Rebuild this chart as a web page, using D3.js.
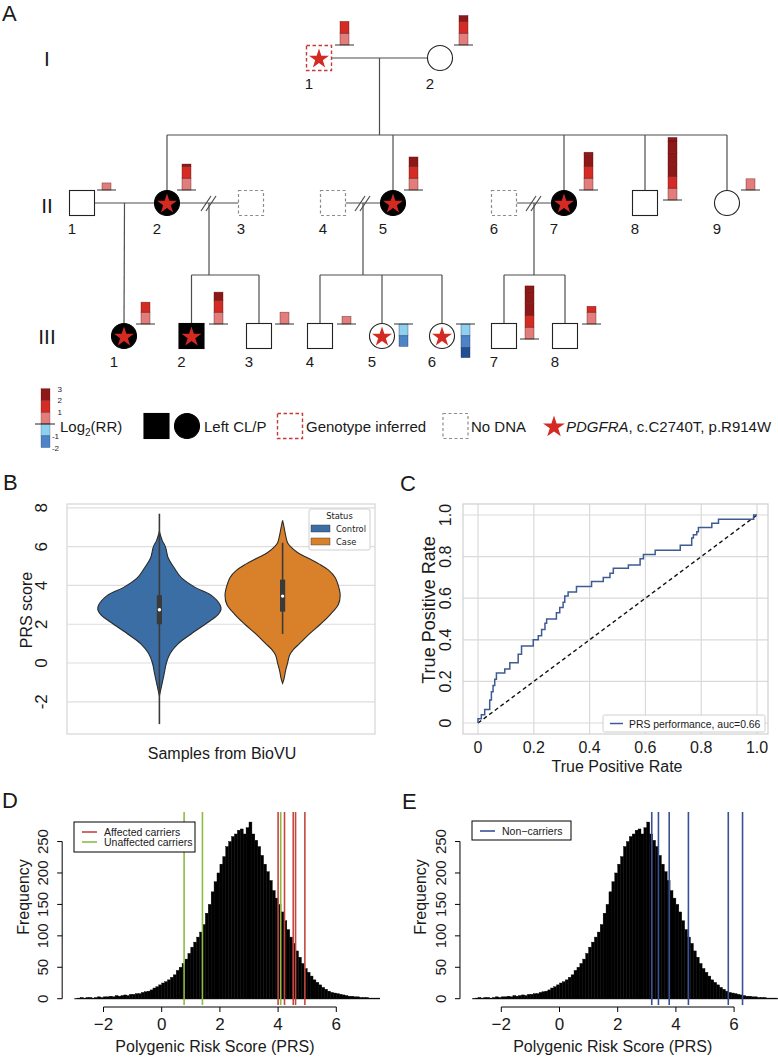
<!DOCTYPE html>
<html>
<head>
<meta charset="utf-8">
<script src="https://cdn.jsdelivr.net/npm/d3@7/dist/d3.min.js"></script>
<style>
  html,body{margin:0;padding:0;background:#fff;}
  svg{display:block;}
  text{font-family:"Liberation Sans",Arial,Helvetica,sans-serif;fill:#1a1a1a;}
</style>
</head>
<body>
<svg id="fig" width="778" height="1057" xmlns="http://www.w3.org/2000/svg"></svg>
<script>
// ===================== DATA =====================
// Panel A – pedigree
const pedIds        = ["I-1","I-2","II-1","II-2","II-3","II-4","II-5","II-6","II-7","II-8","II-9","III-1","III-2","III-3","III-4","III-5","III-6","III-7","III-8"];
const pedLabels     = ["1","2","1","2","3","4","5","6","7","8","9","1","2","3","4","5","6","7","8"];
const pedGeneration = ["I","I","II","II","II","II","II","II","II","II","II","III","III","III","III","III","III","III","III"];
const pedSex        = ["M","F","M","F","M","M","F","M","F","M","F","F","M","M","M","F","F","M","M"];
const pedAffected   = [0,0,0,1,0,0,1,0,1,0,0,1,1,0,0,0,0,0,0];
const pedCarrier    = [1,0,0,1,0,0,1,0,1,0,0,1,1,0,0,1,1,0,0];
const pedDNA        = ["inferred","yes","yes","yes","none","none","yes","none","yes","yes","yes","yes","yes","yes","yes","yes","yes","yes","yes"];
const pedLog2RR     = [2.0,2.5,0.6,2.2,null,null,2.8,null,3.2,5.3,0.95,1.85,2.7,1.0,0.65,-1.9,-2.85,4.5,1.5];
const matingPairs     = [["I-1","I-2"],["II-1","II-2"],["II-2","II-3"],["II-4","II-5"],["II-6","II-7"]];
const matingSeparated = [false,false,true,true,true];
const matingChildren  = [["II-2","II-5","II-7","II-8","II-9"],["III-1"],["III-2","III-3"],["III-4","III-5","III-6"],["III-7","III-8"]];
const generations     = ["I","II","III"];
const rrLegendPos     = [1,2,3];
const rrLegendNeg     = [-1,-2];

// Panel B – violin (KDE profile, relative width)
const statusGroups  = ["Control","Case"];
const controlKdeV = [6.8,6.6,6.3,6.0,5.4,4.9,4.4,3.9,3.5,3.0,2.75,2.5,2.1,1.5,1.0,0.5,0.0,-0.5,-1.0,-1.35,-1.7];
const controlKdeW = [0,.016,.048,.097,.145,.242,.355,.58,.839,.984,1,.952,.79,.516,.306,.177,.113,.081,.048,.024,0];
const caseKdeV    = [7.35,7.0,6.6,6.2,6.0,5.7,5.4,5.1,4.8,4.4,4.0,3.5,3.0,2.5,2.0,1.5,1.0,0.7,0.4,0.0,-0.4,-0.8,-1.05];
const caseKdeW    = [0,.024,.048,.081,.129,.242,.419,.597,.742,.855,.903,.935,.903,.774,.613,.435,.274,.177,.113,.081,.048,.024,0];
const boxQ1     = [2.0,2.65];
const boxMedian = [2.75,3.45];
const boxQ3     = [3.5,4.3];
const whiskerLo = [-3.15,1.5];
const whiskerHi = [7.7,6.2];
const bTicks    = [-2,0,2,4,6,8];

// Panel C – ROC curve
const rocFPR = [0,0,0.012,0.024,0.042,0.048,0.054,0.060,0.066,0.096,0.114,0.144,0.156,0.198,0.216,0.228,0.240,0.246,0.281,0.293,0.305,0.311,0.323,0.353,0.407,0.449,0.473,0.485,0.539,0.581,0.593,0.635,0.725,0.766,0.772,0.784,0.790,0.838,0.862,0.988,1.0];
const rocTPR = [0,0.02,0.04,0.065,0.11,0.15,0.18,0.21,0.24,0.26,0.29,0.33,0.37,0.40,0.42,0.45,0.48,0.50,0.53,0.555,0.58,0.61,0.63,0.656,0.68,0.70,0.72,0.744,0.76,0.79,0.81,0.83,0.855,0.89,0.905,0.92,0.94,0.96,0.98,1.0,1.0];
const cTicks = [0,0.2,0.4,0.6,0.8,1.0];
const cTickLabels = ["0","0.2","0.4","0.6","0.8","1.0"];

// Panels D/E – PRS histogram (bins of 0.1 starting at -3.0)
const prsBinStart = -3.0;
const prsBinWidth = 0.1;
const prsCounts = [
  0,1,2,1,2,2,1,2,3,2,
  3,3,4,3,5,4,5,6,5,7,
  7,8,8,10,11,12,14,17,19,22,
  25,27,30,34,38,45,50,56,63,72,
  82,90,98,106,118,136,150,170,186,200,
  214,226,242,250,258,262,268,270,262,272,
  281,262,252,242,228,214,202,188,172,160,
  150,138,124,110,98,88,76,66,56,48,
  42,36,30,26,22,18,15,12,10,9,
  8,7,6,5,4,4,3,3,2,2,
  2,1,1,1,1
];
const affectedCarrierPRS   = [4.0,4.22,4.52,4.6,4.92];
const unaffectedCarrierPRS = [0.77,1.40,4.09];
const nonCarrierPRS        = [3.17,3.40,3.77,4.43,5.80,6.29];
const histXTicks = [-2,0,2,4,6];
const histYTicks = [0,50,100,150,200,250];

// ===================== LAYOUT (positions only) =====================
const pedX       = [319,440,82,167,251,333,393,504,564,645,727,124,191.5,259,320,382,442,504,565];
const pedBarX    = [340,459,102,182,null,null,409,null,584,668,746,141,214,280,342,399,461,525,587];
const pedBarBase = [45,45,190,190,null,null,190,null,190,200,190,324,324,324,324,324,324,339,324];

// ===================== DRAW =====================
const svg = d3.select("#fig");
svg.append("rect").attr("width",778).attr("height",1057).attr("fill","#fff");

const starCol = "#d42a22";
const star = r => d3.symbol().type(d3.symbolStar).size(r*r/0.8908130915292852)();

function panelLabel(t,x,y){ svg.append("text").attr("x",x).attr("y",y).attr("font-size",22).text(t); }
panelLabel("A",2,21); panelLabel("B",3,490); panelLabel("C",400,491); panelLabel("D",2,808); panelLabel("E",402,809);

// ---------- Panel A ----------
const gA = svg.append("g");
const idx = new Map(pedIds.map((d,i)=>[d,i]));
const genY = d3.scaleOrdinal().domain(generations).range([58,203,336]);
const sibY = d3.scaleOrdinal().domain(generations).range([0,135,275]);
const genLabelY = d3.scaleOrdinal().domain(generations).range([66,213,344]);
const rr = d3.scaleLinear().domain([0,1]).range([0,11.8]);
const HS = 12.5;
const PX = id => pedX[idx.get(id)];
const PY = id => genY(pedGeneration[idx.get(id)]);
const lineCol = "#4d4d4d";
function seg(x1,y1,x2,y2,g=gA){ g.append("line").attr("x1",x1).attr("y1",y1).attr("x2",x2).attr("y2",y2).attr("stroke",lineCol).attr("stroke-width",1.2); }

generations.forEach(g=>{
  gA.append("text").attr("x",47).attr("y",genLabelY(g)).attr("text-anchor","middle").attr("font-size",21).text(g);
});

matingPairs.forEach((p,m)=>{
  const [a,b]=p; const y=PY(a);
  seg(PX(a)+HS,y,PX(b)-HS,y);
  const dx=(PX(a)+PX(b))/2;
  const kids=matingChildren[m];
  if(matingSeparated[m]){ [-3,2].forEach(o=>seg(dx+o-5,y+8,dx+o+5,y-7)); }
  if(kids.length===1){
    const c=kids[0]; seg(dx,y,PX(c),PY(c)-HS);
  } else {
    const sy=sibY(pedGeneration[idx.get(kids[0])]);
    seg(dx,y,dx,sy);
    const xs=kids.map(PX);
    seg(d3.min(xs),sy,d3.max(xs),sy);
    kids.forEach(c=>seg(PX(c),sy,PX(c),PY(c)-HS));
  }
});

function drawShape(g,sex,x,y,affected,dna){
  const fill = affected ? "#000" : "#fff";
  let stroke = affected ? "#000" : "#222", dash=null, sw=1.1;
  if(dna==="none"){stroke="#8c8c8c"; dash="3,2.5"; sw=1.2;}
  if(dna==="inferred"){stroke="#c23b36"; dash="3.5,2.5"; sw=1.4;}
  const el = sex==="M" ? g.append("rect").attr("x",x-HS).attr("y",y-HS).attr("width",2*HS).attr("height",2*HS)
                       : g.append("circle").attr("cx",x).attr("cy",y).attr("r",HS);
  el.attr("fill",fill).attr("stroke",stroke).attr("stroke-width",sw);
  if(dash) el.attr("stroke-dasharray",dash);
}

pedIds.forEach((id,i)=>{
  const x=pedX[i], y=genY(pedGeneration[i]);
  drawShape(gA,pedSex[i],x,y,pedAffected[i],pedDNA[i]);
  if(pedCarrier[i]) gA.append("path").attr("d",star(10.5)).attr("transform",`translate(${x},${y+1})`).attr("fill",starCol);
  gA.append("text").attr("x",x-10).attr("y",y+31).attr("text-anchor","middle").attr("font-size",15).text(pedLabels[i]);
});

const rrPos = ["#e27d7c","#d42b24","#8e1717"];
const rrNeg = ["#8fd0ef","#4d84c5","#22508f"];
function rrBar(g,v,x,base,w){
  const n=Math.ceil(Math.abs(v)-1e-9);
  for(let k=0;k<n;k++){
    const a=k, b=Math.min(k+1,Math.abs(v));
    const y0 = v>0 ? base-rr(b) : base+rr(a);
    g.append("rect").attr("x",x).attr("y",y0).attr("width",w).attr("height",rr(b)-rr(a))
      .attr("fill", v>0 ? rrPos[Math.min(k,2)] : rrNeg[Math.min(k,2)])
      .attr("stroke", v>0 ? "rgba(70,15,15,0.6)" : "rgba(20,40,90,0.6)").attr("stroke-width",0.6);
  }
}
pedIds.forEach((id,i)=>{
  const v=pedLog2RR[i]; if(v===null) return;
  const x=pedBarX[i], base=pedBarBase[i];
  rrBar(gA,v,x,base,9);
  gA.append("line").attr("x1",x-5).attr("x2",x+14).attr("y1",base).attr("y2",base).attr("stroke","#333").attr("stroke-width",1);
});

// Legend row
const gL = svg.append("g");
rrLegendPos.forEach((t,k)=>{
  gL.append("rect").attr("x",41).attr("y",424-rr(t)).attr("width",9).attr("height",rr(1))
    .attr("fill",rrPos[k]).attr("stroke","rgba(70,15,15,0.5)").attr("stroke-width",0.5);
  gL.append("text").attr("x",62).attr("y",424-rr(t)+3).attr("text-anchor","end").attr("font-size",8).text(t);
});
rrLegendNeg.forEach((t,k)=>{
  gL.append("rect").attr("x",41).attr("y",424+rr(-t-1)).attr("width",9).attr("height",rr(1))
    .attr("fill",rrNeg[k]).attr("stroke","rgba(20,40,90,0.5)").attr("stroke-width",0.5);
  gL.append("text").attr("x",59).attr("y",424+rr(-t)+3.5).attr("text-anchor","end").attr("font-size",8).text(t);
});
gL.append("line").attr("x1",35).attr("x2",55).attr("y1",424).attr("y2",424).attr("stroke","#222");
const lt = gL.append("text").attr("x",60).attr("y",432).attr("font-size",15);
lt.append("tspan").text("Log");
lt.append("tspan").attr("font-size",10).attr("dy",4).text("2");
lt.append("tspan").attr("dy",-4).text("(RR)");
drawShape(gL,"M",156.5,426,1,"yes");
drawShape(gL,"F",187,426,1,"yes");
gL.append("text").attr("x",204).attr("y",432).attr("font-size",15).text("Left CL/P");
drawShape(gL,"M",290,426,0,"inferred");
gL.append("text").attr("x",306).attr("y",432).attr("font-size",15).text("Genotype inferred");
drawShape(gL,"M",455.5,426,0,"none");
gL.append("text").attr("x",471).attr("y",432).attr("font-size",15).text("No DNA");
gL.append("path").attr("d",star(11.5)).attr("transform","translate(554,427)").attr("fill",starCol);
const gt = gL.append("text").attr("x",566).attr("y",432).attr("font-size",15);
gt.append("tspan").attr("font-style","italic").text("PDGFRA");
gt.append("tspan").text(", c.C2740T, p.R914W");

// ---------- Panel B ----------
const gB = svg.append("g");
const bX = d3.scaleLinear().domain([-0.5,0.5]).range([67,375]);
const bY = d3.scaleLinear().domain([-3.66,8.2]).range([734,504]);
const bW = d3.scaleLinear().domain([0,1]).range([0,0.2]);
const hueOffset = d3.scaleOrdinal().domain(statusGroups).range([-0.2,0.2]);
const hueColor  = d3.scaleOrdinal().domain(statusGroups).range(["#3b6ea5","#d8812a"]);
bTicks.forEach(t=>{
  gB.append("line").attr("x1",67).attr("x2",375).attr("y1",bY(t)).attr("y2",bY(t)).attr("stroke","#dedede").attr("stroke-width",1.2);
  gB.append("text").attr("transform",`translate(47,${bY(t)}) rotate(-90)`).attr("text-anchor","middle").attr("font-size",17).text(t);
});
gB.append("rect").attr("x",67).attr("y",504).attr("width",308).attr("height",230).attr("fill","none").attr("stroke","#d6d6d6").attr("stroke-width",1.2);
const kdeV=[controlKdeV,caseKdeV], kdeW=[controlKdeW,caseKdeW];
statusGroups.forEach((s,gi)=>{
  const c=hueOffset(s);
  const pts=kdeV[gi].map((v,j)=>({v,w:kdeW[gi][j]}));
  const area=d3.area().y(d=>bY(d.v)).x0(d=>bX(c-bW(d.w))).x1(d=>bX(c+bW(d.w))).curve(d3.curveCatmullRom.alpha(0.5));
  gB.append("path").attr("d",area(pts)).attr("fill",hueColor(s)).attr("stroke","#2a2a2a").attr("stroke-width",1.1);
  const cx=bX(c);
  gB.append("line").attr("x1",cx).attr("x2",cx).attr("y1",bY(whiskerLo[gi])).attr("y2",bY(whiskerHi[gi])).attr("stroke","#3a3a3a").attr("stroke-width",1.6);
  gB.append("rect").attr("x",cx-2.6).attr("width",5.2).attr("y",bY(boxQ3[gi])).attr("height",bY(boxQ1[gi])-bY(boxQ3[gi])).attr("fill","#3a3a3a");
  gB.append("circle").attr("cx",cx).attr("cy",bY(boxMedian[gi])).attr("r",1.7).attr("fill","#fff");
});
gB.append("rect").attr("x",309).attr("y",509).attr("width",61).attr("height",41).attr("rx",2).attr("fill","#fff").attr("stroke","#cfcfcf");
gB.append("text").attr("x",339.5).attr("y",519).attr("text-anchor","middle").attr("font-size",8.3).style("font-family","'DejaVu Sans',sans-serif").text("Status");
statusGroups.forEach((s,gi)=>{
  const y=525+gi*13;
  gB.append("rect").attr("x",311).attr("y",y).attr("width",19).attr("height",7).attr("fill",hueColor(s)).attr("stroke","#2a2a2a").attr("stroke-width",0.4);
  gB.append("text").attr("x",336).attr("y",y+6.5).attr("font-size",8.3).style("font-family","'DejaVu Sans',sans-serif").text(s);
});
gB.append("text").attr("transform","translate(32,610) rotate(-90)").attr("text-anchor","middle").attr("font-size",16).text("PRS score");
gB.append("text").attr("x",222).attr("y",759).attr("text-anchor","middle").attr("font-size",16).text("Samples from BioVU");

// ---------- Panel C ----------
const gC = svg.append("g");
const cX = d3.scaleLinear().domain([0,1]).range([478,757]);
const cY = d3.scaleLinear().domain([0,1]).range([723,515]);
cTicks.forEach((t,k)=>{
  gC.append("line").attr("x1",cX(t)).attr("x2",cX(t)).attr("y1",504).attr("y2",734).attr("stroke","#dadada").attr("stroke-width",1.2);
  gC.append("line").attr("x1",463).attr("x2",768).attr("y1",cY(t)).attr("y2",cY(t)).attr("stroke","#dadada").attr("stroke-width",1.2);
  gC.append("text").attr("x",cX(t)).attr("y",753).attr("text-anchor","middle").attr("font-size",16).text(cTickLabels[k]);
  gC.append("text").attr("transform",`translate(451,${cY(t)}) rotate(-90)`).attr("text-anchor","middle").attr("font-size",16).text(cTickLabels[k]);
});
gC.append("rect").attr("x",463).attr("y",504).attr("width",305).attr("height",230).attr("fill","none").attr("stroke","#d0d0d0").attr("stroke-width",1.2);
gC.append("line").attr("x1",cX(0)).attr("y1",cY(0)).attr("x2",cX(1)).attr("y2",cY(1)).attr("stroke","#111").attr("stroke-width",1.4).attr("stroke-dasharray","4,3");
const rocPts = rocFPR.map((f,i)=>[f,rocTPR[i]]);
gC.append("path").attr("d",d3.line().x(d=>cX(d[0])).y(d=>cY(d[1])).curve(d3.curveStepAfter)(rocPts))
  .attr("fill","none").attr("stroke","#3f5b93").attr("stroke-width",1.5);
gC.append("rect").attr("x",603).attr("y",715).attr("width",162).attr("height",17).attr("rx",1.5).attr("fill","#fff").attr("stroke","#cfcfcf");
gC.append("line").attr("x1",610).attr("x2",623).attr("y1",723.5).attr("y2",723.5).attr("stroke","#3f5b93").attr("stroke-width",1.5);
gC.append("text").attr("x",629).attr("y",727.5).attr("font-size",10.4).text("PRS performance, auc=0.66");
gC.append("text").attr("transform","translate(435,610) rotate(-90)").attr("text-anchor","middle").attr("font-size",18).text("True Positive Rate");
gC.append("text").attr("x",617).attr("y",772).attr("text-anchor","middle").attr("font-size",16).text("True Positive Rate");

// ---------- Panels D & E ----------
const histY = d3.scaleLinear().domain([-10,297]).range([1005,812]);
function histPanel(x0, lines, legendItems, legendBox){
  const g = svg.append("g");
  const X = d3.scaleLinear().domain([0,6]).range([x0, x0+174.6]);
  const axX = X(-3.42);
  prsCounts.forEach((c,i)=>{
    if(c<=0) return;
    const lo=prsBinStart+i*prsBinWidth, hi=lo+prsBinWidth;
    g.append("rect").attr("x",X(lo)).attr("width",X(hi)-X(lo)).attr("y",histY(c)).attr("height",histY(0)-histY(c))
      .attr("fill","#000").attr("stroke","#000").attr("stroke-width",0.4);
  });
  g.append("line").attr("x1",X(prsBinStart)).attr("x2",X(prsBinStart+prsCounts.length*prsBinWidth)).attr("y1",histY(0)).attr("y2",histY(0)).attr("stroke","#000").attr("stroke-width",1);
  lines.forEach(L=>L.values.forEach(v=>{
    g.append("line").attr("x1",X(v)).attr("x2",X(v)).attr("y1",812).attr("y2",1005).attr("stroke",L.color).attr("stroke-width",1.6);
  }));
  // y axis
  g.append("line").attr("x1",axX).attr("x2",axX).attr("y1",histY(0)).attr("y2",histY(250)).attr("stroke","#000");
  histYTicks.forEach(t=>{
    g.append("line").attr("x1",axX-5).attr("x2",axX).attr("y1",histY(t)).attr("y2",histY(t)).attr("stroke","#000");
    g.append("text").attr("transform",`translate(${axX-14},${histY(t)}) rotate(-90)`).attr("text-anchor","middle").attr("font-size",15).text(t);
  });
  // x axis
  g.append("line").attr("x1",X(-2)).attr("x2",X(6)).attr("y1",1007).attr("y2",1007).attr("stroke","#000");
  histXTicks.forEach(t=>{
    g.append("line").attr("x1",X(t)).attr("x2",X(t)).attr("y1",1007).attr("y2",1012).attr("stroke","#000");
    g.append("text").attr("x",X(t)).attr("y",1030).attr("text-anchor","middle").attr("font-size",17).text(t<0?"\u2212"+(-t):t);
  });
  g.append("text").attr("transform",`translate(${axX-33.5},897) rotate(-90)`).attr("text-anchor","middle").attr("font-size",16).text("Frequency");
  g.append("text").attr("x",X(1.83)).attr("y",1052).attr("text-anchor","middle").attr("font-size",16).text("Polygenic Risk Score (PRS)");
  // legend
  g.append("rect").attr("x",legendBox[0]).attr("y",legendBox[1]).attr("width",legendBox[2]).attr("height",legendBox[3]).attr("fill","#fff").attr("stroke","#000");
  legendItems.forEach((it,k)=>{
    const y=legendBox[1]+10+k*10;
    g.append("line").attr("x1",legendBox[0]+8).attr("x2",legendBox[0]+23).attr("y1",y).attr("y2",y).attr("stroke",it.color).attr("stroke-width",1.6);
    g.append("text").attr("x",legendBox[0]+30).attr("y",y+3.5).attr("font-size",10.5).text(it.label);
  });
}
histPanel(161.7,
  [{values:affectedCarrierPRS,color:"#c4473f"},{values:unaffectedCarrierPRS,color:"#8fba45"}],
  [{label:"Affected carriers",color:"#c4473f"},{label:"Unaffected carriers",color:"#8fba45"}],
  [74,822,121,30]);
histPanel(559.5,
  [{values:nonCarrierPRS,color:"#3b4f96"}],
  [{label:"Non\u2212carriers",color:"#3b4f96"}],
  [472,821,99,19]);
</script>
</body>
</html>
